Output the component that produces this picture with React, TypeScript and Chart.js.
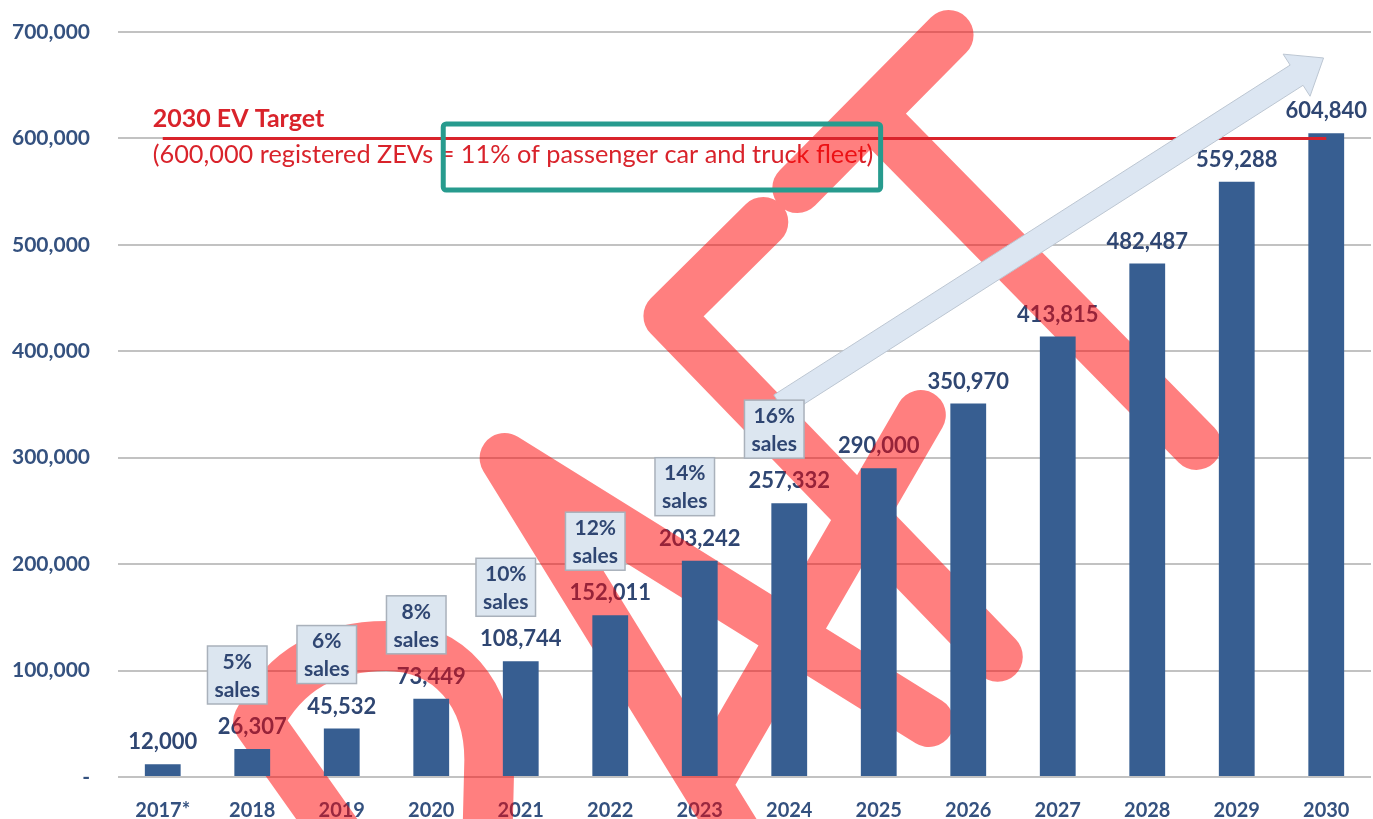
import React, { useEffect, useRef } from 'react';
import { Chart, registerables } from 'chart.js';

Chart.register(...registerables);

// ---------------- data ----------------
const categories = ['2017*', '2018', '2019', '2020', '2021', '2022', '2023', '2024', '2025', '2026', '2027', '2028', '2029', '2030'];
const registeredZevs = [12000, 26307, 45532, 73449, 108744, 152011, 203242, 257332, 290000, 350970, 413815, 482487, 559288, 604840];
const salesShare = ['', '5%', '6%', '8%', '10%', '12%', '14%', '16%', '', '', '', '', '', ''];
const yTickValues = [0, 100000, 200000, 300000, 400000, 500000, 600000, 700000];
const targetValue = 600000;
const targetTitle = '2030 EV Target';
const targetNote = '(600,000 registered ZEVs = 11% of passenger car and truck fleet)';

// ---------------- styles ----------------
const FONT = 'Lato, "Open Sans", sans-serif';
const BAR_COLOR = '#375e91';
const TICK_COLOR = '#34517f';
const LABEL_COLOR = '#2f4672';
const RED = '#d9232b';
const GRID = '#c2c2c2';

// hand-drawn markup, in (category index, value) coordinates
const markupLines: [number, number][][] = [
  [[8.78, 697200], [7.09, 553400]],
  [[7.96, 619200], [11.55, 312000]],
  [[6.71, 521500], [5.65, 433200], [9.33, 113000]],
  [[6.52, -68600], [3.82, 299700], [8.56, 51700]],
  [[8.47, 340100], [6.14, 1900]],
];
const ringPath = {
  start: [2.038, -63900],
  corner: [1.065, 51700],
  c1: [[1.367, 102400], [1.871, 123100], [2.497, 123100]],
  c2: [[3.212, 123100], [3.649, 77000], [3.649, 16000]],
  end: [3.626, -63900],
};
const arrowFrom = [6.9, 349500];
const arrowTo = [12.97, 675600];
const highlightBox = [[3.134, 613600], [8.021, 551500]];

const fmt = (v: number) => v.toLocaleString('en-US');

const decorPlugin = {
  id: 'decor',
  beforeDatasetsDraw(chart: any) {
    const { ctx, scales } = chart;
    const x = scales.x, y = scales.y;
    const P = (p: number[]) => [x.getPixelForValue(p[0]), y.getPixelForValue(p[1])];
    ctx.save();
    // value labels
    ctx.font = `bold 22px ${FONT}`;
    ctx.fillStyle = LABEL_COLOR;
    ctx.textAlign = 'center';
    ctx.textBaseline = 'middle';
    registeredZevs.forEach((v, i) => {
      ctx.fillText(fmt(v), x.getPixelForValue(i), y.getPixelForValue(v) - 22);
    });
    // target text
    const ty = y.getPixelForValue(targetValue);
    const tx = x.getPixelForValue(0) - 10;
    ctx.textAlign = 'left';
    ctx.fillStyle = RED;
    ctx.font = `bold 25px ${FONT}`;
    ctx.fillText(targetTitle, tx, ty - 19);
    ctx.font = `25.3px ${FONT}`;
    ctx.fillText(targetNote, tx, ty + 16);

    // red markup strokes
    ctx.strokeStyle = 'rgba(255,0,0,0.5)';
    ctx.lineWidth = 50;
    ctx.lineCap = 'round';
    ctx.lineJoin = 'round';
    ctx.beginPath();
    markupLines.forEach((line) => {
      line.forEach((pt, k) => {
        const [px, py] = P(pt);
        if (k === 0) ctx.moveTo(px, py);
        else ctx.lineTo(px, py);
      });
    });
    {
      const s = P(ringPath.start);
      const c = P(ringPath.corner);
      ctx.moveTo(s[0], s[1]);
      ctx.lineTo(c[0], c[1]);
      const a = ringPath.c1.map(P);
      ctx.bezierCurveTo(a[0][0], a[0][1], a[1][0], a[1][1], a[2][0], a[2][1]);
      const b = ringPath.c2.map(P);
      ctx.bezierCurveTo(b[0][0], b[0][1], b[1][0], b[1][1], b[2][0], b[2][1]);
      const e = P(ringPath.end);
      ctx.lineTo(e[0], e[1]);
    }
    ctx.stroke();
    ctx.restore();
  },
  afterDatasetsDraw(chart: any) {
    const { ctx, scales } = chart;
    const x = scales.x, y = scales.y;
    const P = (p: number[]) => [x.getPixelForValue(p[0]), y.getPixelForValue(p[1])];
    ctx.save();
    // target line
    const ty = y.getPixelForValue(targetValue);
    ctx.strokeStyle = RED;
    ctx.lineWidth = 3;
    ctx.beginPath();
    ctx.moveTo(x.getPixelForValue(0), ty);
    ctx.lineTo(x.getPixelForValue(categories.length - 1), ty);
    ctx.stroke();

    // arrow
    const [sx, sy] = P(arrowFrom);
    const [ex, ey] = P(arrowTo);
    const dx = ex - sx, dy = ey - sy;
    const L = Math.hypot(dx, dy);
    const ux = dx / L, uy = dy / L;
    const nx = -uy, ny = ux;
    const hl = 32, hw = 25, sw = 12;
    const bx = ex - ux * hl, by = ey - uy * hl;
    ctx.beginPath();
    ctx.moveTo(sx + nx * sw, sy + ny * sw);
    ctx.lineTo(bx + nx * sw, by + ny * sw);
    ctx.lineTo(bx + nx * hw, by + ny * hw);
    ctx.lineTo(ex, ey);
    ctx.lineTo(bx - nx * hw, by - ny * hw);
    ctx.lineTo(bx - nx * sw, by - ny * sw);
    ctx.lineTo(sx - nx * sw, sy - ny * sw);
    ctx.closePath();
    ctx.fillStyle = '#dce6f2';
    ctx.fill();
    ctx.strokeStyle = '#bcc6d2';
    ctx.lineWidth = 1;
    ctx.stroke();

    // sales boxes
    ctx.font = `bold 21px ${FONT}`;
    ctx.textAlign = 'center';
    ctx.textBaseline = 'middle';
    salesShare.forEach((s, i) => {
      if (!s) return;
      const cx = x.getPixelForValue(i) - 15;
      const bottom = y.getPixelForValue(registeredZevs[i]) - 45;
      const w = Math.max(ctx.measureText(s).width, ctx.measureText('sales').width) + 14;
      const h = 58;
      ctx.fillStyle = '#dce6f0';
      ctx.fillRect(cx - w / 2, bottom - h, w, h);
      ctx.strokeStyle = '#a9b1bb';
      ctx.lineWidth = 1.5;
      ctx.strokeRect(cx - w / 2, bottom - h, w, h);
      ctx.fillStyle = LABEL_COLOR;
      ctx.fillText(s, cx, bottom - h + 16);
      ctx.fillText('sales', cx, bottom - 14);
    });

    // teal highlight rectangle
    const [r1x, r1y] = P(highlightBox[0]);
    const [r2x, r2y] = P(highlightBox[1]);
    ctx.strokeStyle = '#279b8e';
    ctx.lineWidth = 5;
    ctx.beginPath();
    (ctx as any).roundRect(r1x, r1y, r2x - r1x, r2y - r1y, 3);
    ctx.stroke();
    ctx.restore();
  },
};

export default function App() {
  const ref = useRef<HTMLCanvasElement>(null);
  useEffect(() => {
    document.body.style.margin = '0';
    const canvas = ref.current;
    if (!canvas) return;
    const chart = new Chart(canvas, {
      type: 'bar',
      data: {
        labels: categories,
        datasets: [
          {
            data: registeredZevs,
            backgroundColor: BAR_COLOR,
            barPercentage: 0.4,
            categoryPercentage: 1,
          },
        ],
      },
      options: {
        responsive: false,
        animation: false,
        layout: { padding: { top: 32, right: 2, left: 0, bottom: 0 } },
        plugins: { legend: { display: false }, tooltip: { enabled: false } },
        scales: {
          x: {
            grid: { display: false, drawTicks: false },
            border: { display: false },
            ticks: { color: TICK_COLOR, font: { family: FONT, size: 20, weight: 'bold' }, padding: 22, maxRotation: 0, autoSkip: false },
            afterFit: (s: any) => { s.height = 42; },
          },
          y: {
            min: 0,
            max: 700000,
            afterBuildTicks: (s: any) => { s.ticks = yTickValues.map((v) => ({ value: v })); },
            grid: { color: GRID, lineWidth: 2, drawTicks: false },
            border: { display: false },
            ticks: {
              color: TICK_COLOR,
              font: { family: FONT, size: 21, weight: 'bold' },
              padding: 28,
              callback: (v: any) => (Number(v) === 0 ? '-' : fmt(Number(v))),
            },
            afterFit: (s: any) => { s.width = 118; s.paddingTop = 0; s.paddingBottom = 0; },
          },
        },
      },
      plugins: [decorPlugin],
    });
    return () => chart.destroy();
  }, []);
  return (
    <div style={{ width: 1373, height: 819, background: '#fff' }}>
      <canvas ref={ref} width={1373} height={819} />
    </div>
  );
}
